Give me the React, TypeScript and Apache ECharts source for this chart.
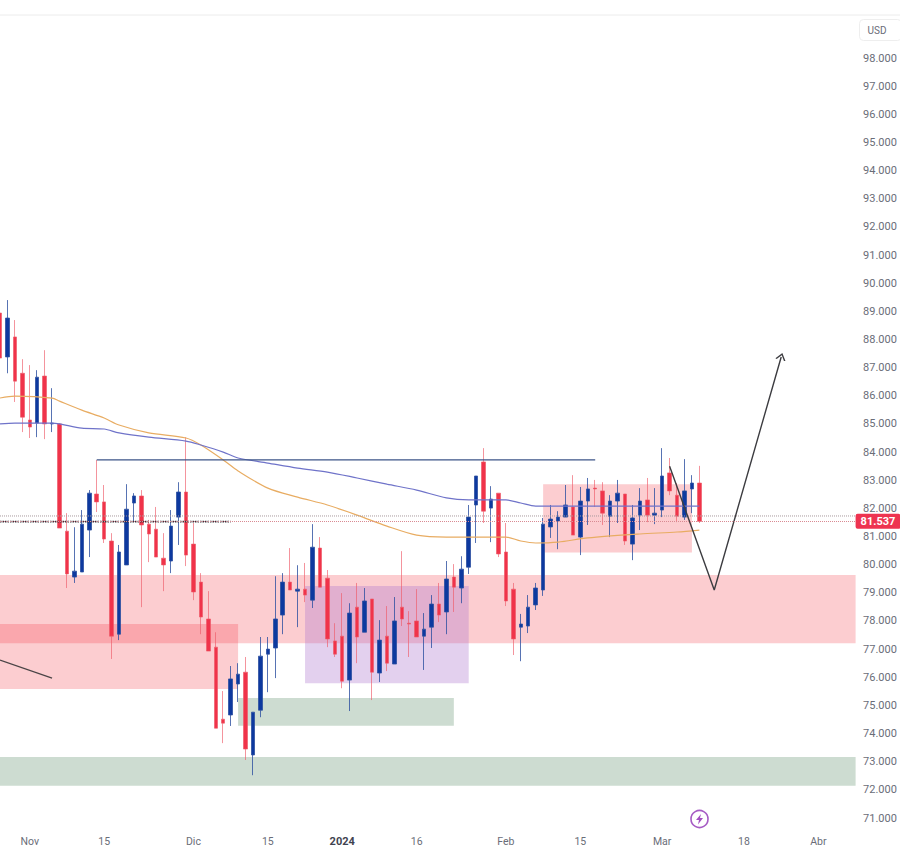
import React, { useEffect, useRef } from "react";
import * as echarts from "echarts";

const RED = "#f0334a";
const BLUE = "#0d399f";
const TEXT = "#6a6d78";
const FONT = "Roboto, 'Noto Sans', sans-serif";

const opens = [
  88.94, 87.38, 88.09, 86.80, 85.14, 85.03, 86.70, 85.00, 85.00, 81.19,
  79.56, 79.74, 81.23, 82.51, 82.23, 80.84, 77.53, 79.99, 82.19, 82.44,
  81.44, 81.26, 80.23, 80.13, 81.69, 82.58, 80.73, 79.38, 78.07, 77.07,
  74.51, 74.66, 75.76, 76.18, 73.24, 74.83, 76.82, 77.04, 78.21, 79.38,
  79.06, 79.13, 78.74, 80.59, 79.52, 77.29, 77.46, 75.90, 78.49, 77.60,
  78.78, 76.15, 77.46, 76.47, 78.49, 77.92, 78.00, 77.46, 77.78, 78.60,
  78.32, 79.56, 79.17, 79.91, 82.12, 83.65, 82.01, 82.54, 80.45, 79.13,
  77.78, 77.82, 78.57, 79.10, 81.34, 81.55, 81.69, 82.05, 80.98, 82.26,
  82.72, 82.62, 81.72, 82.26, 82.51, 80.73, 81.76, 82.30, 81.76, 81.94,
  83.26, 82.47, 81.69, 82.69, 82.90,
];
const closes = [
  87.34, 88.76, 86.52, 85.24, 84.89, 86.66, 85.00, 85.03, 81.30, 79.67,
  79.77, 81.44, 82.54, 82.23, 80.91, 77.46, 80.45, 81.97, 82.44, 81.41,
  81.09, 80.27, 79.99, 81.37, 82.58, 80.34, 79.03, 78.14, 76.93, 74.19,
  74.37, 75.94, 76.11, 73.45, 74.76, 76.75, 77.00, 78.07, 79.38, 79.10,
  79.13, 78.92, 80.62, 79.20, 77.36, 76.82, 75.86, 78.28, 77.43, 78.71,
  76.18, 77.32, 76.50, 78.00, 78.07, 77.89, 77.43, 77.71, 78.60, 78.21,
  79.49, 79.20, 79.84, 81.69, 83.15, 81.90, 82.33, 80.38, 78.71, 77.36,
  77.89, 78.49, 79.17, 81.44, 81.62, 81.69, 82.12, 81.05, 82.26, 82.69,
  82.69, 81.83, 82.26, 82.54, 80.84, 81.66, 82.26, 81.76, 81.83, 83.15,
  82.62, 81.72, 82.62, 82.90, 81.537,
];
const lows = [
  86.56, 86.80, 85.78, 84.71, 84.50, 84.53, 84.46, 84.71, 81.30, 79.17,
  79.35, 79.74, 80.27, 81.87, 80.77, 76.65, 77.32, 79.99, 81.51, 78.49,
  80.09, 80.27, 79.06, 79.70, 80.70, 79.95, 78.74, 77.53, 76.93, 74.19,
  73.66, 74.27, 75.12, 73.06, 72.52, 74.58, 75.47, 75.97, 77.53, 79.10,
  77.78, 78.67, 78.46, 79.20, 77.07, 76.72, 75.61, 74.80, 76.50, 77.60,
  75.19, 75.83, 76.22, 76.47, 77.82, 76.72, 77.43, 76.26, 77.04, 77.96,
  77.53, 78.32, 78.63, 79.67, 80.77, 81.48, 80.80, 80.27, 78.53, 76.79,
  76.57, 77.57, 78.39, 78.89, 80.95, 80.55, 81.69, 81.05, 80.34, 81.41,
  82.05, 81.41, 80.98, 81.48, 80.70, 80.16, 81.23, 81.51, 81.44, 81.69,
  82.47, 81.51, 81.59, 81.83, 81.48,
];
const highs = [
  89.29, 89.40, 88.69, 87.30, 87.09, 86.91, 87.62, 86.27, 85.03, 81.83,
  81.33, 81.94, 82.65, 83.72, 82.83, 81.12, 80.70, 82.86, 82.54, 82.65,
  81.59, 82.05, 81.12, 81.94, 82.93, 84.53, 81.48, 79.70, 79.06, 77.60,
  75.51, 76.40, 76.50, 76.72, 74.76, 77.43, 77.43, 79.59, 79.70, 80.59,
  79.98, 80.06, 81.44, 80.98, 79.81, 77.92, 78.99, 78.63, 79.35, 79.17,
  78.78, 78.03, 78.53, 78.85, 80.48, 78.35, 79.13, 78.28, 78.92, 79.35,
  80.13, 80.02, 80.30, 82.12, 83.15, 84.14, 82.79, 82.54, 81.48, 79.35,
  78.25, 78.92, 79.35, 81.66, 82.12, 81.90, 82.83, 83.18, 82.76, 83.08,
  83.01, 82.93, 82.47, 83.01, 82.51, 82.12, 82.72, 83.08, 82.72, 84.14,
  83.79, 82.90, 83.75, 83.18, 83.51,
];

const TOTAL_BARS = 116;
const dateLabels: Record<number, string> = {
  4: "Nov", 14: "15", 26: "Dic", 36: "15", 46: "2024", 56: "16",
  68: "Feb", 78: "15", 89: "Mar", 100: "18", 110: "Abr",
};
const categories = Array.from({ length: TOTAL_BARS }, (_, i) => dateLabels[i] ?? "");

const orangeAverage = [
  [0, 85.92], [2, 85.99], [7, 85.92], [8, 85.81], [11, 85.49], [14, 85.21], [16, 84.96],
  [20, 84.68], [25, 84.50], [27, 84.25], [30, 83.72], [32, 83.33], [36, 82.72], [40, 82.40],
  [44, 82.12], [48, 81.76], [52, 81.37], [56, 81.05], [60, 80.98], [63, 80.98], [66, 80.98],
  [68, 80.98], [70, 80.84], [72, 80.77], [75, 80.80], [79, 80.95], [86, 81.09], [91, 81.16], [94, 81.23],
];
const blueAverage = [
  [0, 85.00], [2, 85.03], [7, 85.03], [8, 85.00], [11, 84.85], [14, 84.82], [16, 84.68],
  [20, 84.53], [25, 84.39], [27, 84.25], [30, 84.00], [32, 83.79], [36, 83.61], [40, 83.43],
  [44, 83.29], [48, 83.08], [52, 82.86], [56, 82.65], [60, 82.37], [63, 82.30], [66, 82.30],
  [68, 82.30], [70, 82.19], [72, 82.08], [75, 82.08], [94, 82.08],
];
const resistanceLine = [[13, 83.72], [80, 83.72]];
const supportLine = [[0, 81.53], [31, 81.53]];
const upperDotted = [[0, 81.73], [115, 81.73]];
const lastPrice = 81.537;
const oldTrend = [[0, 76.61], [7, 75.97]];
const projection = [[90, 83.5], [96, 79.1], [105, 87.38]];

const PINK = "rgba(242,54,69,0.25)";
const GREEN = "rgba(76,130,90,0.28)";
const PURPLE = "rgba(175,121,206,0.35)";
// [first bar, top price, last bar, bottom price, fill]
const zones: [number, number, number, number, string][] = [
  [0, 79.63, 115, 77.21, PINK],
  [0, 77.89, 32, 75.58, PINK],
  [0, 73.17, 115, 72.15, GREEN],
  [32, 75.26, 61, 74.28, GREEN],
  [41, 79.24, 63, 75.79, PURPLE],
  [73, 82.86, 93, 80.43, PINK],
];

const lineSeries = (name: string, data: number[][], color: string, width: number, extra = {}) => ({
  name,
  type: "line",
  data,
  showSymbol: false,
  symbol: "none",
  silent: true,
  lineStyle: { color, width },
  z: 3,
  ...extra,
});

export default function App() {
  const ref = useRef<HTMLDivElement>(null);
  useEffect(() => {
    const chart = echarts.init(ref.current!, undefined, { renderer: "svg" });
    chart.setOption({
      animation: false,
      backgroundColor: "#ffffff",
      textStyle: { fontFamily: FONT },
      grid: { left: 0, top: 58, width: 855.6, height: 760, containLabel: false, outerBoundsMode: "none" },
      xAxis: {
        type: "category",
        data: categories,
        boundaryGap: false,
        axisLine: { show: false },
        axisTick: { show: false },
        splitLine: { show: false },
        axisLabel: {
          interval: 0,
          margin: 18,
          color: TEXT,
          fontSize: 10.5,
          fontFamily: FONT,
          formatter: (v: string) => (v === "2024" ? "{b|2024}" : v),
          rich: { b: { fontWeight: "bold", fontSize: 11, color: "#3f4350", fontFamily: FONT } },
        },
      },
      yAxis: {
        type: "value",
        position: "right",
        min: 71,
        max: 98,
        interval: 1,
        scale: true,
        axisLine: { show: false },
        axisTick: { show: false },
        splitLine: { show: false },
        axisLabel: {
          margin: 7.5,
          color: TEXT,
          fontSize: 11,
          fontFamily: FONT,
          formatter: (v: number) => v.toFixed(3),
        },
      },
      series: [
        {
          name: "Price",
          type: "candlestick",
          data: opens.map((o, i) => [o, closes[i], lows[i], highs[i]]),
          barWidth: 4,
          itemStyle: {
            color: BLUE,
            color0: RED,
            borderColor: "rgba(45,80,160,0.8)",
            borderColor0: "rgba(238,90,105,0.65)",
            borderWidth: 1,
          },
          silent: true,
          z: 2,
          markArea: {
            silent: true,
            z: 1,
            label: { show: false },
            data: zones.map(([x0, y0, x1, y1, color]) => [
              { coord: [x0, y0], itemStyle: { color } },
              { coord: [x1, y1] },
            ]),
          },
          markLine: {
            silent: true,
            symbol: "none",
            lineStyle: { color: "#d98a92", type: "dotted", width: 1 },
            label: {
              show: true,
              position: "end",
              distance: 0,
              formatter: lastPrice.toFixed(3),
              color: "#ffffff",
              backgroundColor: "#ee3350",
              borderRadius: 2,
              padding: [2, 5, 2, 5],
              fontSize: 11,
              fontWeight: "bold",
              fontFamily: FONT,
            },
            data: [{ yAxis: lastPrice }],
          },
        },
        lineSeries("Average 1", orangeAverage, "#e8ac62", 1.2, { smooth: 0.3 }),
        lineSeries("Average 2", blueAverage, "#6f73c9", 1.2, { smooth: 0.3 }),
        lineSeries("Resistance", resistanceLine, "#3d5488", 1.2),
        lineSeries("Support", supportLine, "#35373f", 1.6, { lineStyle: { color: "#35373f", width: 1.6, type: [1.5, 1] } }),
        lineSeries("Dotted", upperDotted, "#a89a9e", 1, { lineStyle: { color: "#a89a9e", width: 1, type: "dotted" } }),
        lineSeries("Trend", oldTrend, "#4a4446", 1.2),
        {
          name: "Projection",
          type: "line",
          silent: true,
          z: 4,
          lineStyle: { color: "#3c3c40", width: 1.4 },
          showSymbol: true,
          data: projection.map((p, i) =>
            i === projection.length - 1
              ? {
                  value: p,
                  symbol: "path://M0 10 L5 0 L10 10",
                  symbolSize: [9, 6],
                  symbolRotate: -16,
                  itemStyle: { color: "none", borderColor: "#3c3c40", borderWidth: 1.3, opacity: 1 },
                }
              : { value: p, symbol: "none" }
          ),
        },
      ],
      graphic: [
        { type: "line", silent: true, shape: { x1: 0, y1: 15, x2: 900, y2: 15 }, style: { stroke: "#ececec", lineWidth: 1 } },
        {
          type: "rect",
          silent: true,
          shape: { x: 859.5, y: 19.5, width: 42, height: 21, r: 4 },
          style: { fill: "#ffffff", stroke: "#eeeeee", lineWidth: 1 },
        },
        {
          type: "text",
          silent: true,
          x: 877,
          y: 30,
          style: { text: "USD", fill: TEXT, font: `10px ${FONT}`, align: "center", verticalAlign: "middle" },
        },
        {
          type: "circle",
          silent: true,
          shape: { cx: 699.5, cy: 819, r: 8.5 },
          style: { fill: "#ffffff", stroke: "#a65cc4", lineWidth: 1.6 },
        },
        {
          type: "polygon",
          silent: true,
          shape: { points: [[701, 814], [696, 820], [699, 820], [698, 824.5], [703, 818], [700, 818]] },
          style: { fill: "#a24fc0" },
        },
      ],
    });
    return () => chart.dispose();
  }, []);
  return (
    <div
      ref={ref}
      style={{ position: "absolute", left: 0, top: 0, width: 900, height: 850 }}
    />
  );
}
